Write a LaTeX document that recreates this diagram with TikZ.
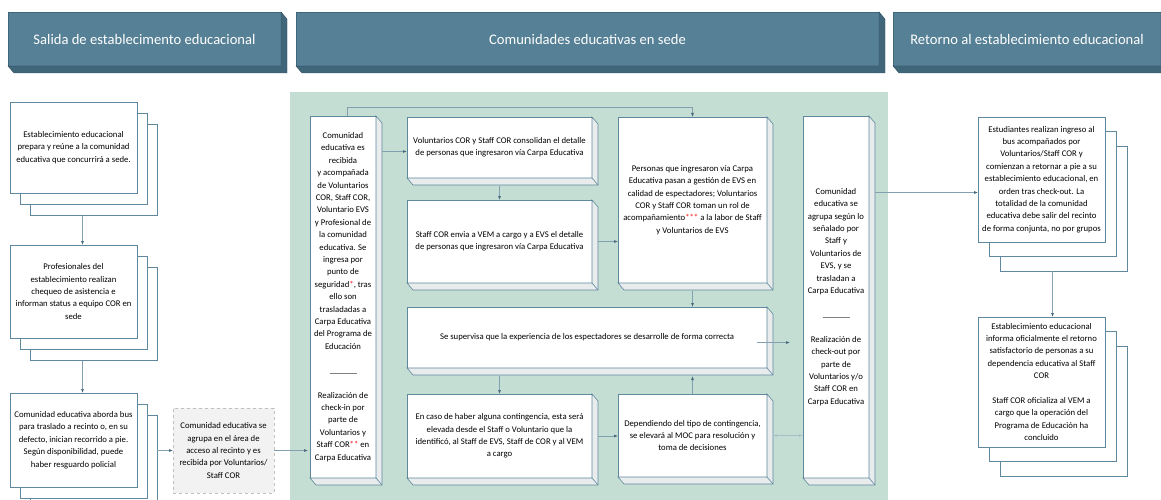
\documentclass[tikz,border=0pt]{standalone}
\usepackage{fontspec}
\setmainfont{Carlito}
\usetikzlibrary{positioning, arrows.meta, calc, shadows}

\definecolor{headfill}{RGB}{85,128,150}
\definecolor{headside}{RGB}{64,102,122}
\definecolor{panelfill}{RGB}{197,222,211}
\definecolor{boxline}{RGB}{95,135,158}
\definecolor{bevelfill}{RGB}{232,236,236}
\definecolor{lineclr}{RGB}{130,160,175}
\definecolor{tipclr}{RGB}{70,105,125}

\begin{document}
\begin{tikzpicture}[x=1pt, y=-1pt,
        arrow/.style = {draw=lineclr, line width=0.6pt, -{Latex[length=4pt, width=3pt, color=tipclr]}},
        header/.style = {fill=headfill, draw=headside, text=white, anchor=north west, minimum height=54pt, inner sep=0pt, outer sep=0pt, font=\fontsize{14.6}{17}\selectfont},
        stepbox/.style = {fill=white, draw=boxline, line width=0.6pt, align=center, anchor=north west, inner sep=0pt, outer sep=0pt, font=\fontsize{8.7}{12.4}\selectfont},
        stack/.style = {stepbox, copy shadow={shadow xshift=20pt, shadow yshift=-22pt, fill=white, draw=boxline}, copy shadow={shadow xshift=10pt, shadow yshift=-11pt, fill=white, draw=boxline}},
        rstack/.style = {stepbox, copy shadow={shadow xshift=22pt, shadow yshift=-29pt, fill=white, draw=boxline}, copy shadow={shadow xshift=11pt, shadow yshift=-14pt, fill=white, draw=boxline}}
    ]
    \clip (0,0) rectangle (1161,500);

    % headers
    \node[header, minimum width=273pt] (salida) at (8,12) {Salida de establecimento educacional};
    \node[header, minimum width=583pt] (sede) at (296,12) {Comunidades educativas en sede};
    \node[header, minimum width=268pt] (retorno) at (893,12) {Retorno al establecimiento educacional};
    \foreach \n in {salida, sede, retorno} {
        \filldraw[fill=headside, draw=headside!80!black] (\n.north east) -- ++(6,7) -- ($(\n.south east)+(6,7)$) -- ($(\n.south west)+(6,7)$) -- (\n.south west) -- (\n.south east) -- cycle;
    }

    % green area
    \node[fill=panelfill, anchor=north west, minimum width=598pt, minimum height=408pt, inner sep=0pt] (zona) at (290,92) {};

    % left column
    \node[stack, minimum width=127pt, minimum height=91pt] (prepara) at (10,102) {Establecimiento educacional\\ prepara y reúne a la comunidad\\ educativa que concurrirá a sede.};
    \node[stack, minimum width=127pt, minimum height=93pt] (profes) at (10,245) {Profesionales del\\ establecimiento realizan\\ chequeo de asistencia e\\ informan status a equipo COR en\\ sede};
    \node[stack, minimum width=127pt, minimum height=94pt] (aborda) at (10,393) {Comunidad educativa aborda bus\\ para traslado a recinto o, en su\\ defecto, inician recorrido a pie.\\ Según disponibilidad, puede\\ haber resguardo policial};
    \node[stepbox, fill=gray!10, draw=gray!50, dashed, minimum width=101pt, minimum height=85pt] (acceso) at (173,408) {Comunidad educativa se\\ agrupa en el área de\\ acceso al recinto y es\\ recibida por Voluntarios/\\ Staff COR};

    % in sede
    \node[stepbox, minimum width=66pt, minimum height=362pt] (recibida) at (310,116) {Comunidad\\ educativa es\\ recibida\\ y acompañada\\ de Voluntarios\\ COR, Staff COR,\\ Voluntario EVS\\ y Profesional de\\ la comunidad\\ educativa. Se\\ ingresa por\\ punto de\\ seguridad\textcolor{red}{*}, tras\\ ello son\\ trasladadas a\\ Carpa Educativa\\ del Programa de\\ Educación\\[14pt] \textcolor{gray}{\rule[2pt]{27pt}{0.6pt}}\\[10pt] Realización de\\ check-in por\\ parte de\\ Voluntarios y\\ Staff COR\textcolor{red}{**} en\\ Carpa Educativa};
    \node[stepbox, minimum width=185pt, minimum height=61pt] (consolida) at (407,117) {Voluntarios COR y Staff COR consolidan el detalle\\ de personas que ingresaron vía Carpa Educativa};
    \node[stepbox, minimum width=185pt, minimum height=83pt] (envia) at (407,200) {Staff COR envia a VEM a cargo y a EVS el detalle\\ de personas que ingresaron vía Carpa Educativa};
    \node[stepbox, minimum width=149pt, minimum height=166pt] (personas) at (618,117) {Personas que ingresaron vía Carpa\\ Educativa pasan a gestión de EVS en\\ calidad de espectadores; Voluntarios\\ COR y Staff COR toman un rol de\\ acompañamiento\textcolor{red}{***} a la labor de Staff\\ y Voluntarios de EVS};
    \node[stepbox, minimum width=360pt, minimum height=61pt] (supervisa) at (407,307) {Se supervisa que la experiencia de los espectadores se desarrolle de forma correcta};
    \node[stepbox, minimum width=185pt, minimum height=84pt] (contingencia) at (407,394) {En caso de haber alguna contingencia, esta será\\ elevada desde el Staff o Voluntario que la\\ identificó, al Staff de EVS, Staff de COR y al VEM\\ a cargo};
    \node[stepbox, minimum width=149pt, minimum height=83pt] (moc) at (618,394) {Dependiendo del tipo de contingencia,\\ se elevará al MOC para resolución y\\ toma de decisiones};
    \node[stepbox, minimum width=66pt, minimum height=362pt] (agrupa) at (803,116) {Comunidad\\ educativa se\\ agrupa según lo\\ señalado por\\ Staff y\\ Voluntarios de\\ EVS, y se\\ trasladan a\\ Carpa Educativa\\[14pt] \textcolor{gray}{\rule[2pt]{27pt}{0.6pt}}\\[10pt] Realización de\\ check-out por\\ parte de\\ Voluntarios y/o\\ Staff COR en\\ Carpa Educativa};
    \foreach \n in {recibida, consolida, envia, personas, supervisa, contingencia, moc, agrupa} {
        \filldraw[fill=bevelfill, draw=boxline, line width=0.6pt] (\n.north east) -- ++(6,7) -- ($(\n.south east)+(6,7)$) -- ($(\n.south west)+(6,7)$) -- (\n.south west) -- (\n.south east) -- cycle;
        \draw[boxline, line width=0.6pt] (\n.south east) -- ++(6,7);
    }

    % return
    \node[rstack, minimum width=127pt, minimum height=125pt] (estudiantes) at (978,117) {Estudiantes realizan ingreso al\\ bus acompañados por\\ Voluntarios/Staff COR y\\ comienzan a retornar a pie a su\\ establecimiento educacional, en\\ orden tras check-out. La\\ totalidad de la comunidad\\ educativa debe salir del recinto\\ de forma conjunta, no por grupos};
    \node[rstack, minimum width=127pt, minimum height=130pt] (informa) at (978,317) {Establecimiento educacional\\ informa oficialmente el retorno\\ satisfactorio de personas a su\\ dependencia educativa al Staff\\ COR\\[12.4pt] Staff COR oficializa al VEM a\\ cargo que la operación del\\ Programa de Educación ha\\ concluido};

    % connectors
    \draw[arrow] ($(prepara.south)+(9,23)$) -- ($(profes.north)+(9,0)$);
    \draw[arrow] ($(profes.south)+(9,23)$) -- ($(aborda.north)+(9,0)$);
    \draw[arrow] ($(aborda.east |- acceso.west)+(20,0)$) -- (acceso.west);
    \draw[arrow] (acceso.east) -- ($(acceso.east -| recibida.west)+(-2,0)$);
    \draw[arrow] ($(recibida.east |- consolida.west)+(6,4)$) -- ($(consolida.west)+(0,4)$);
    \draw[arrow] ($(recibida.north)+(4,0)$) -- ++(0,-9) -| (personas.north);
    \draw[arrow] ($(consolida.south)+(0,8)$) -- (envia.north);
    \draw[arrow] ($(envia.east)+(6,0)$) -- (envia.east -| personas.west);
    \draw[arrow] ($(personas.south)+(0,8)$) -- (personas.south |- supervisa.north);
    \draw[arrow] ($(supervisa.south -| contingencia.north)+(0,8)$) -- (contingencia.north);
    \draw[arrow] ($(contingencia.east)+(6,0)$) -- (contingencia.east -| moc.west);
    \draw[arrow] (moc.north) -- ($(supervisa.south -| moc.north)+(0,8)$);
    \draw[draw=lineclr!70, line width=0.5pt, {Latex[open, length=4pt, width=3pt]}-{Latex[open, length=4pt, width=3pt]}] ($(moc.east)+(6,0)$) -- (moc.east -| agrupa.west);
    \draw[arrow] ($(supervisa.east)+(-10,5)$) -- ($(supervisa.east -| agrupa.west)+(-13,5)$);
    \draw[arrow] ($(agrupa.east |- estudiantes.west)+(6,13)$) -- ($(estudiantes.west)+(0,13)$);
    \draw[arrow] ($(estudiantes.south)+(11,29)$) -- ($(informa.north)+(11,0)$);
\end{tikzpicture}
\end{document}
